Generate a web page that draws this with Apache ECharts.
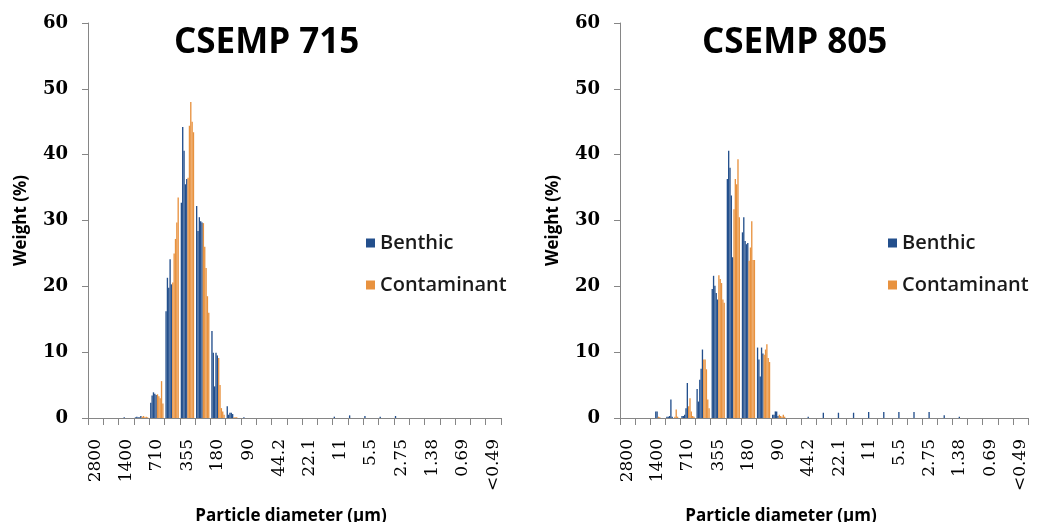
<!DOCTYPE html>
<html>
<head>
<meta charset="utf-8">
<script src="https://cdn.jsdelivr.net/npm/echarts@6/dist/echarts.min.js"></script>
<style>
  html, body { margin: 0; padding: 0; background: #fff; }
  #chart { width: 1046px; height: 522px; }
</style>
</head>
<body>
<div id="chart"></div>
<script>
// Particle diameter classes (µm), half-phi intervals
const categories = ['2800','2000','1400','1000','710','500','355','250','180','125','90','63','44.2','31.2','22.1','15.6','11','7.8','5.5','3.9','2.75','1.95','1.38','0.98','0.69','0.49','<0.49'];
const yTicks = [0, 10, 20, 30, 40, 50, 60];
const titles = ['CSEMP 715', 'CSEMP 805'];
const legendNames = ['Benthic', 'Contaminant'];

// CSEMP 715 replicates (weight %)
const benthic715_1 = [0,0,0,0.1,2.3,16.2,32.7,32.2,13.2,1.8,0,0,0,0,0,0,0.2,0.4,0.3,0.2,0.3,0,0,0,0,0,0];
const benthic715_2 = [0,0,0,0.2,3.4,21.3,44.2,28.4,9.9,0.5,0.1,0,0,0,0,0,0,0,0,0,0,0,0,0,0,0,0];
const benthic715_3 = [0,0,0,0.1,3.9,19.8,40.6,30.5,4.8,0.8,0,0,0,0,0,0,0,0,0,0,0,0,0,0,0,0,0];
const benthic715_4 = [0,0,0.1,0.1,3.7,24.1,35.5,29.9,9.9,0.8,0,0,0,0,0,0,0,0,0,0,0,0,0,0,0,0,0];
const benthic715_5 = [0,0,0,0.3,3.5,20.3,36.3,29.7,9.5,0.6,0,0,0,0,0,0,0,0,0,0,0,0,0,0,0,0,0];
const contam715_1 = [0,0,0,0.2,3.6,20.6,36.5,29.6,9.1,0.1,0,0,0,0,0,0,0,0,0,0,0,0,0,0,0,0,0];
const contam715_2 = [0,0,0,0.3,3.3,25.0,44.4,26.0,5.0,0.1,0,0,0,0,0,0,0,0,0,0,0,0,0,0,0,0,0];
const contam715_3 = [0,0,0,0.1,3.0,27.2,48.0,22.8,1.5,0.1,0,0,0,0,0,0,0,0,0,0,0,0,0,0,0,0,0];
const contam715_4 = [0,0,0,0.2,5.6,29.7,45.0,18.5,1.0,0,0,0,0,0,0,0,0,0,0,0,0,0,0,0,0,0,0];
const contam715_5 = [0,0,0,0.1,2.2,33.5,43.4,16.0,0.5,0,0,0,0,0,0,0,0,0,0,0,0,0,0,0,0,0,0];

// CSEMP 805 replicates (weight %)
const benthic805_1 = [0,0,0,0.2,0.3,4.4,19.6,36.3,28.2,10.7,0.5,0,0,0,0,0,0,0,0,0,0,0,0,0,0,0,0];
const benthic805_2 = [0,0,0,0.2,0.3,2.5,21.6,40.6,30.5,8.9,0.5,0,0,0,0,0,0,0,0,0,0,0,0,0,0,0,0];
const benthic805_3 = [0,0,0,0.3,0.5,5.8,20.1,38.0,26.9,6.3,1.0,0,0,0,0,0,0,0,0,0,0,0,0,0,0,0,0];
const benthic805_4 = [0,0,1.0,2.8,1.5,7.5,19.0,33.8,26.4,10.7,1.0,0,0,0,0,0,0,0,0,0,0,0,0,0,0,0,0];
const benthic805_5 = [0,0,1.0,0.2,5.3,10.4,18.0,24.4,26.6,9.8,0.3,0,0.2,0.8,0.8,0.8,0.9,0.9,0.9,0.9,0.9,0.4,0.2,0,0,0,0];
const contam805_1 = [0,0,0.2,0,1.8,8.9,21.7,31.7,23.9,9.6,0.5,0,0,0,0,0,0,0,0,0,0,0,0,0,0,0,0];
const contam805_2 = [0,0,0.1,0.2,3.0,8.9,21.1,36.3,25.9,10.4,0.3,0,0,0,0,0,0,0,0,0,0,0,0,0,0,0,0];
const contam805_3 = [0,0,0,1.3,1.0,7.4,20.5,35.5,29.9,11.2,0.2,0,0,0,0,0,0,0,0,0,0,0,0,0,0,0,0];
const contam805_4 = [0,0,0,0.2,0.3,2.8,18.0,39.3,24.0,9.1,0.5,0,0,0,0,0,0,0,0,0,0,0,0,0,0,0,0];
const contam805_5 = [0,0,0,0,0.2,1.5,17.5,30.5,24.0,8.5,0.2,0,0,0,0,0,0,0,0,0,0,0,0,0,0,0,0];

const BLUE = '#234F8C';
const ORANGE = '#E8923F';
const AXIS = '#868686';

const panels = [
  { benthic: [benthic715_1, benthic715_2, benthic715_3, benthic715_4, benthic715_5],
    contam:  [contam715_1, contam715_2, contam715_3, contam715_4, contam715_5] },
  { benthic: [benthic805_1, benthic805_2, benthic805_3, benthic805_4, benthic805_5],
    contam:  [contam805_1, contam805_2, contam805_3, contam805_4, contam805_5] }
];

const gridPos = [
  { left: 88, top: 23, width: 413, height: 395 },
  { left: 620, top: 23, width: 408, height: 395 }
];
const titlePos = [174, 702];
const legendPos = [366, 888];
const xNamePad = [[0, 7, 0, 0], [0, 86, 0, 0]];

const series = [];
panels.forEach((p, i) => {
  p.benthic.forEach(d => series.push({
    type: 'bar', name: legendNames[0], data: d, xAxisIndex: i, yAxisIndex: i,
    itemStyle: { color: BLUE }, barGap: '0%', barCategoryGap: '12%'
  }));
  p.contam.forEach(d => series.push({
    type: 'bar', name: legendNames[1], data: d, xAxisIndex: i, yAxisIndex: i,
    itemStyle: { color: ORANGE }, barGap: '0%', barCategoryGap: '12%'
  }));
});

const option = {
  animation: false,
  backgroundColor: '#fff',
  title: titles.map((t, i) => ({
    text: t, left: titlePos[i], top: 26, padding: 0,
    textStyle: { fontFamily: 'Open Sans', fontWeight: 'bold', fontSize: 35, color: '#000' }
  })),
  legend: legendPos.map(l => ({
    data: legendNames, orient: 'vertical', left: l, top: 233, padding: 0,
    itemGap: 22, itemWidth: 9, itemHeight: 9, icon: 'rect',
    textStyle: { fontFamily: 'Open Sans', fontWeight: 600, fontSize: 20, lineHeight: 20, color: '#1a1a1a' }
  })),
  grid: gridPos.map(g => Object.assign({ containLabel: false, outerBoundsMode: 'none' }, g)),
  xAxis: gridPos.map((g, i) => ({
    type: 'category', gridIndex: i, data: categories, boundaryGap: true,
    axisLine: { show: true, lineStyle: { color: AXIS, width: 1 } },
    axisTick: { show: true, interval: 0, length: 7, alignWithLabel: false, lineStyle: { color: AXIS } },
    axisLabel: { interval: 1, rotate: 90, margin: 21, fontFamily: 'DejaVu Serif', fontSize: 17, color: '#000' },
    splitLine: { show: false },
    name: 'Particle diameter (μm)', nameLocation: 'middle', nameGap: 90,
    nameMoveOverlap: false,
    nameTextStyle: { fontFamily: 'Open Sans', fontWeight: 'bold', fontSize: 17, color: '#000', padding: xNamePad[i] }
  })),
  yAxis: gridPos.map((g, i) => ({
    type: 'value', gridIndex: i, min: yTicks[0], max: yTicks[yTicks.length - 1], interval: 10,
    axisLine: { show: true, lineStyle: { color: AXIS, width: 1 } },
    axisTick: { show: true, length: 6, lineStyle: { color: AXIS } },
    axisLabel: { margin: 20, fontFamily: 'DejaVu Serif', fontWeight: 'bold', fontSize: 18, color: '#000' },
    splitLine: { show: false },
    name: 'Weight (%)', nameLocation: 'middle', nameGap: 58, nameRotate: 90,
    nameTextStyle: { fontFamily: 'Open Sans', fontWeight: 'bold', fontSize: 17, color: '#000' }
  })),
  series: series
};

const chart = echarts.init(document.getElementById('chart'), null, { renderer: 'canvas' });
chart.setOption(option);
</script>
</body>
</html>
